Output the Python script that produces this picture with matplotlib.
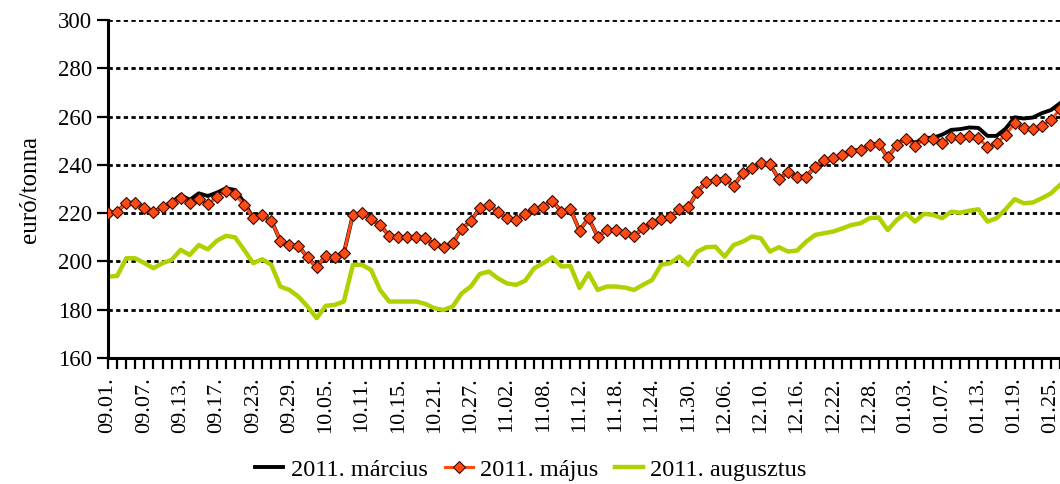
import matplotlib
matplotlib.use("Agg")
import matplotlib.pyplot as plt
from matplotlib.ticker import FixedLocator, MultipleLocator

plt.rcParams['font.family'] = ['Liberation Serif', 'DejaVu Serif']

tick_labels = ["09.01.", "09.07.", "09.13.", "09.17.", "09.23.", "09.29.", "10.05.",
               "10.11.", "10.15.", "10.21.", "10.27.", "11.02.", "11.08.", "11.12.",
               "11.18.", "11.24.", "11.30.", "12.06.", "12.10.", "12.16.", "12.22.",
               "12.28.", "01.03.", "01.07.", "01.13.", "01.19.", "01.25."]

majus = [220.0, 220.6, 224.3, 224.3, 222.0, 220.4, 222.7, 224.4, 226.2, 224.4,
         226.0, 223.6, 226.7, 229.1, 227.8, 223.5, 217.9, 219.3, 216.9, 208.6,
         206.8, 206.4, 201.7, 197.6, 202.3, 201.7, 203.4, 219.3, 220.0, 217.6,
         215.1, 210.6, 210.0, 210.0, 210.3, 209.6, 207.1, 206.1, 207.5, 213.5,
         216.8, 222.0, 223.4, 220.6, 217.9, 217.2, 219.7, 221.6, 222.7, 225.2,
         220.6, 221.6, 212.8, 217.9, 210.3, 213.0, 213.0, 211.9, 210.6, 213.7,
         216.1, 217.5, 218.6, 221.6, 222.4, 228.9, 233.0, 233.7, 234.2, 231.3,
         236.5, 238.6, 240.7, 240.4, 234.0, 237.2, 235.1, 235.1, 239.3, 242.2,
         242.7, 244.1, 245.9, 246.2, 248.2, 248.7, 243.1, 248.2, 250.9, 247.8,
         250.6, 250.6, 248.9, 251.4, 251.0, 252.0, 251.0, 247.5, 248.9, 252.4,
         257.2, 255.2, 254.7, 256.2, 258.6, 263.0]

marcius = [220.0, 220.6, 224.3, 224.3, 222.0, 220.4, 222.7, 224.4, 227.5, 225.5,
           228.2, 227.1, 228.5, 230.3, 229.6, 224.5, 217.9, 219.3, 216.9, 208.6,
           206.8, 206.4, 201.7, 197.6, 202.3, 201.7, 203.4, 219.3, 220.0, 217.6,
           215.1, 210.6, 210.0, 210.0, 210.3, 209.6, 207.1, 206.1, 207.5, 213.5,
           216.8, 222.0, 223.4, 220.6, 217.9, 217.2, 219.7, 221.6, 222.7, 225.2,
           220.6, 221.6, 212.8, 217.9, 210.3, 213.0, 213.0, 211.9, 210.6, 213.7,
           216.1, 217.5, 218.6, 221.6, 222.4, 228.9, 233.0, 233.7, 234.2, 231.3,
           236.5, 238.6, 240.7, 240.4, 234.0, 237.2, 235.1, 235.1, 239.3, 242.2,
           242.7, 244.1, 245.9, 246.2, 248.2, 248.7, 243.1, 248.2, 251.4, 249.0,
           251.2, 251.2, 252.5, 254.5, 254.8, 255.5, 255.3, 252.0, 252.0, 255.0,
           259.7, 259.2, 259.6, 261.4, 262.7, 265.5]

augusztus = [193.7, 194.0, 201.3, 201.3, 199.3, 197.2, 199.3, 200.6, 204.8, 202.7,
             206.8, 205.0, 208.6, 210.6, 210.0, 204.8, 199.3, 200.9, 198.6, 189.6,
             188.2, 185.4, 181.3, 176.5, 181.6, 182.0, 183.4, 198.6, 198.6, 196.5,
             188.2, 183.4, 183.4, 183.4, 183.4, 182.4, 180.6, 179.9, 181.3, 186.8,
             189.6, 194.8, 195.8, 193.0, 190.9, 190.3, 192.0, 197.2, 199.3, 201.7,
             197.9, 198.1, 189.0, 195.1, 188.2, 189.6, 189.6, 189.2, 188.2, 190.3,
             192.3, 198.6, 199.3, 202.0, 198.6, 204.1, 205.9, 206.1, 202.0, 206.8,
             208.2, 210.3, 209.6, 204.1, 205.9, 204.1, 204.5, 208.2, 211.0, 211.7,
             212.4, 213.7, 215.1, 215.8, 217.9, 218.2, 213.0, 217.2, 220.0, 216.5,
             219.7, 219.3, 217.9, 220.6, 220.2, 221.0, 221.6, 216.5, 217.9, 221.6,
             225.8, 224.1, 224.4, 226.2, 228.2, 231.7]

series_names = ["2011. március", "2011. május", "2011. augusztus"]

x = list(range(len(majus)))

fig = plt.figure(figsize=(10.6, 4.84), dpi=100)
ax = fig.add_axes([0.102, 0.2603, 0.898, 0.6984])

ax.plot(x, marcius, color='black', lw=2.8, label=series_names[0], zorder=3)
ax.plot(x, augusztus, color='#B0D000', lw=3.2, label=series_names[2], zorder=2)
ax.plot(x, majus, color='#FF4A14', lw=2.2, marker='D', markersize=6.6,
        markerfacecolor='#FF4A14', markeredgecolor='#3a0a00', markeredgewidth=0.8,
        label=series_names[1], zorder=4)

ax.set_xlim(0, len(majus) - 1)
ax.set_ylim(160, 300)
ax.yaxis.set_major_locator(MultipleLocator(20))
ax.grid(axis='y', color='black', linestyle=(0, (1.55, 1.2)), lw=2.0)
ax.set_axisbelow(True)

ax.set_xticks(list(range(0, 4 * len(tick_labels), 4)))
ax.set_xticklabels(tick_labels, rotation=90)
ax.xaxis.set_minor_locator(FixedLocator(x))
ax.tick_params(axis='x', which='both', length=8, width=1.6, direction='out',
               labelsize=16, pad=6)
ax.tick_params(axis='y', which='major', length=8, width=1.6, direction='out',
               labelsize=16.5, pad=3.5)

for s in ['top', 'right']:
    ax.spines[s].set_visible(False)
for s in ['left', 'bottom']:
    ax.spines[s].set_linewidth(2.2)
    ax.spines[s].set_color('black')

ax.set_ylabel("euró/tonna", fontsize=18, labelpad=12)

h, l = ax.get_legend_handles_labels()
order = [0, 2, 1]
leg = fig.legend([h[i] for i in order], [l[i] for i in order], loc='center',
                 bbox_to_anchor=(0.501, 0.029), ncol=3, frameon=False, fontsize=17.5,
                 handlelength=1.15, handletextpad=0.3, columnspacing=0.7)

fig.savefig("out.png", dpi=100)
